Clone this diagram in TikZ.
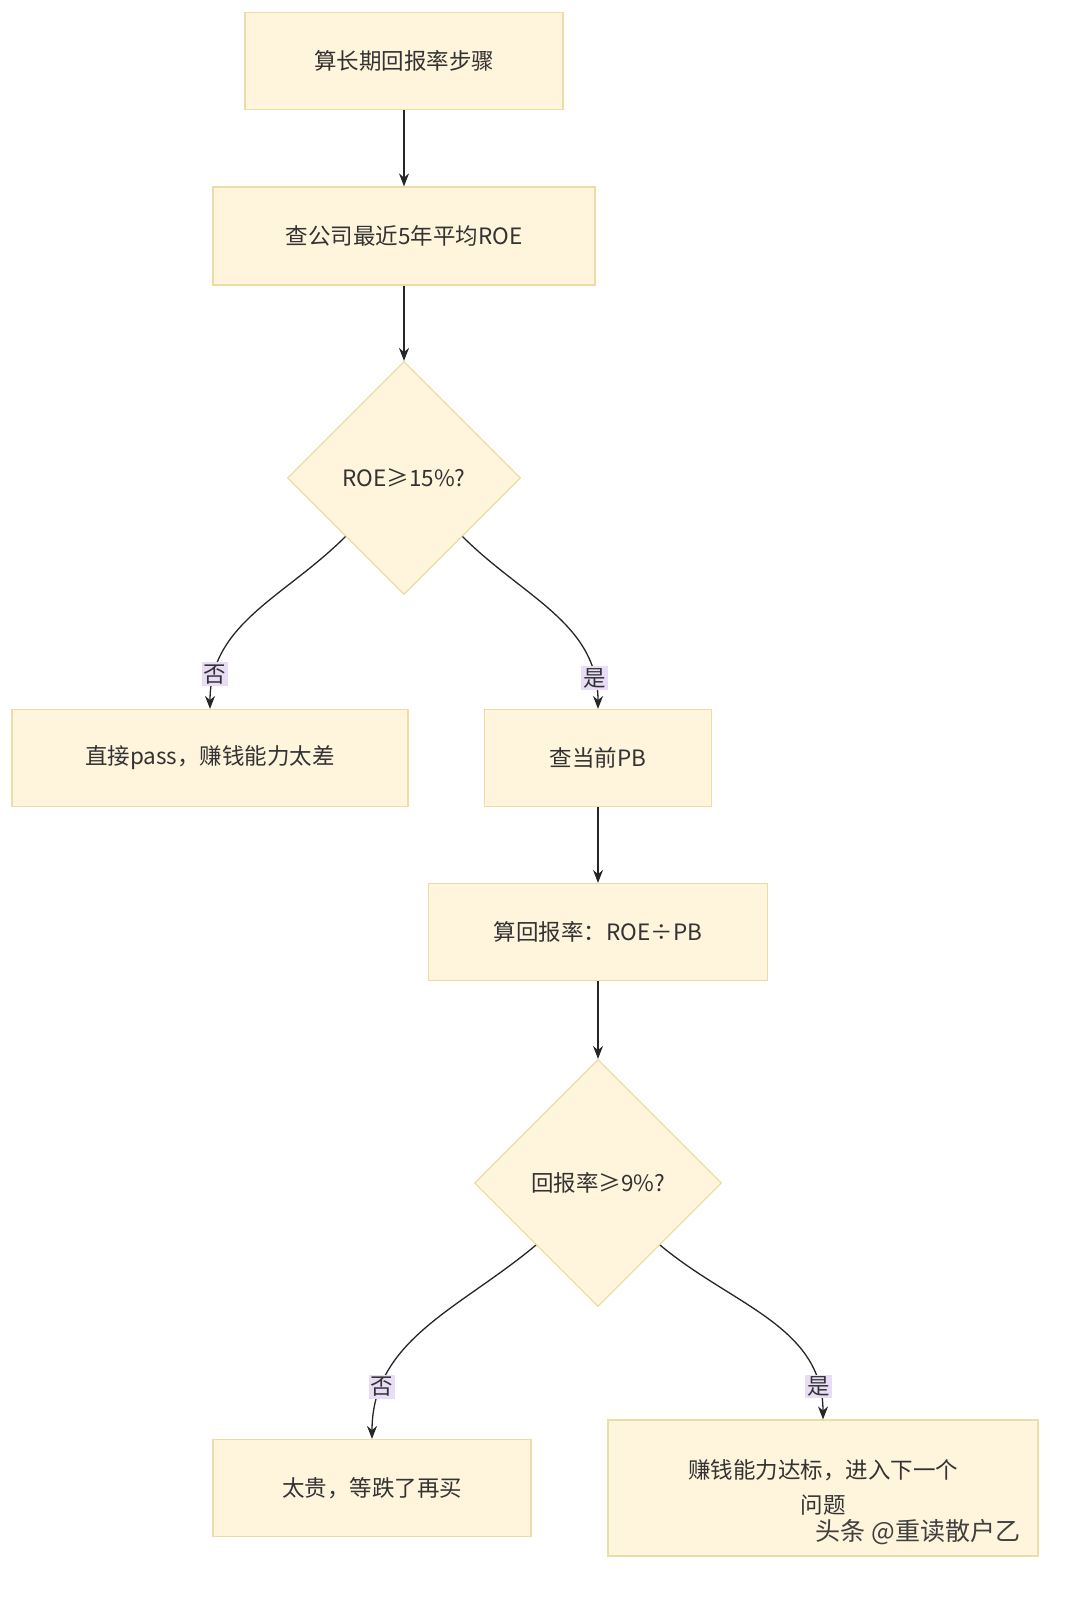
\documentclass[tikz,border=0pt]{standalone}
\usepackage{fontspec}
\setmainfont{Noto Sans CJK SC}
\usetikzlibrary{shapes.geometric,arrows.meta}
\definecolor{fillc}{HTML}{FFF4DC}
\definecolor{linec}{HTML}{EEDCA6}
\definecolor{lblc}{HTML}{E9DCF6}
\begin{document}
\begin{tikzpicture}[x=1pt,y=1pt,
  every node/.style={font=\fontsize{22.5}{32}\selectfont, text=black!80},
  box/.style={draw=linec, fill=fillc, line width=1.2pt, inner sep=0pt},
  dia/.style={diamond, draw=linec, fill=fillc, line width=1.2pt, inner sep=0pt, minimum width=#1, minimum height=#1, aspect=1},
  arr/.style={draw=black!85, line width=1.3pt, -{Stealth[length=13pt,width=10pt]}},
  lbl/.style={fill=lblc, inner sep=2pt}]
\useasboundingbox (0,0) rectangle (1080,-1613);
\fill[white] (0,0) rectangle (1080,-1613);
\node[box, minimum width=318, minimum height=97] (n1) at (404,-61) {算长期回报率步骤};
\node[box, minimum width=382, minimum height=98] (n2) at (404,-236) {查公司最近5年平均ROE};
\node[dia=233] (d1) at (404,-478) {ROE≥15\%?};
\node[box, minimum width=396, minimum height=97] (n3) at (210,-758) {直接pass，赚钱能力太差};
\node[box, minimum width=227, minimum height=97] (n4) at (598,-758) {查当前PB};
\node[box, minimum width=339, minimum height=97] (n5) at (598,-932) {算回报率：ROE÷PB};
\node[dia=247] (d2) at (598,-1183) {回报率≥9\%?};
\node[box, minimum width=318, minimum height=97] (n6) at (372,-1488) {太贵，等跌了再买};
\node[box, minimum width=430, minimum height=136] (n7) at (823,-1488) {};
\node at (823,-1470) {赚钱能力达标，进入下一个};
\node at (823,-1505) {问题};
\draw[arr] (n1) -- (n2);
\draw[arr] (n2) -- (d1);
\draw[arr] (d1.south west) to[out=-135,in=90] node[lbl,pos=0.85]{否} (n3.north);
\draw[arr] (d1.south east) to[out=-45,in=90] node[lbl,pos=0.87]{是} (n4.north);
\draw[arr] (n4) -- (n5);
\draw[arr] (n5) -- (d2);
\draw[arr] (d2.south west) to[out=-140,in=90] node[lbl,pos=0.8]{否} (n6.north);
\draw[arr] (d2.south east) to[out=-40,in=90] node[lbl,pos=0.87]{是} (n7.north);
\node[font=\fontsize{25}{28}\selectfont, text=black!75] (wm) at (918,-1532) {头条 @重读散户乙};
\end{tikzpicture}
\end{document}
